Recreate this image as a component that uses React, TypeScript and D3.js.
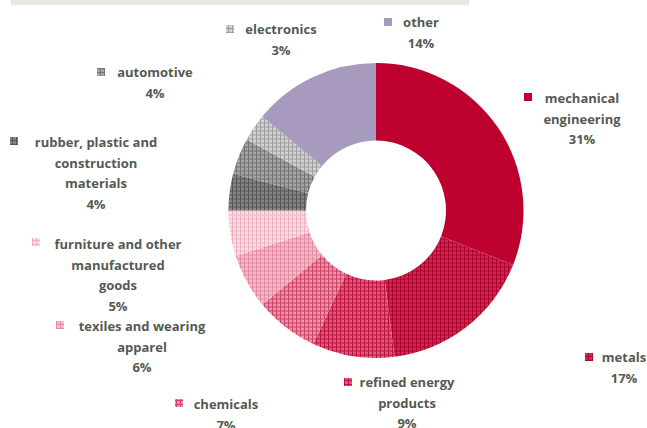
import React from "react";
import * as d3 from "d3";

const categories = [
  "mechanical engineering",
  "metals",
  "refined energy products",
  "chemicals",
  "texiles and wearing apparel",
  "furniture and other manufactured goods",
  "rubber, plastic and construction materials",
  "automotive",
  "electronics",
  "other",
];
const values = [31, 17, 9, 7, 6, 5, 4, 4, 3, 14];
const labelLines = [
  ["mechanical", "engineering"],
  ["metals"],
  ["refined energy", "products"],
  ["chemicals"],
  ["texiles and wearing", "apparel"],
  ["furniture and other", "manufactured", "goods"],
  ["rubber, plastic and", "construction", "materials"],
  ["automotive"],
  ["electronics"],
  ["other"],
];

// styling (not data)
const fills = [
  { bg: "#bd002d", line: null },
  { bg: "#cc2a52", line: "#ae002c" },
  { bg: "#da5c7a", line: "#bf1040" },
  { bg: "#eb95a9", line: "#cf4065" },
  { bg: "#f4bccb", line: "#e58aa0" },
  { bg: "#fbe0e7", line: "#f0b0c0" },
  { bg: "#858585", line: "#565656" },
  { bg: "#a5a5a5", line: "#727272" },
  { bg: "#d2d2d2", line: "#9e9e9e" },
  { bg: "#a899bf", line: null },
];
// label anchor: marker x, marker y (center), text center x, first line baseline y
const labelPos = [
  { mx: 528, my: 97, tx: 582, ty: 103 },
  { mx: 589, my: 357, tx: 624, ty: 362 },
  { mx: 348, my: 382, tx: 407, ty: 387 },
  { mx: 179, my: 403, tx: 226, ty: 409 },
  { mx: 60, my: 325, tx: 142, ty: 331 },
  { mx: 36, my: 242, tx: 118, ty: 249 },
  { mx: 14, my: 141, tx: 96, ty: 147 },
  { mx: 101, my: 72, tx: 155, ty: 77 },
  { mx: 230, my: 29, tx: 281, ty: 34 },
  { mx: 388, my: 22, tx: 421, ty: 27 },
];

export default function App() {
  const W = 647, H = 428;
  const cx = 376, cy = 210.5, rO = 147.5, rI = 70;
  const pie = d3.pie<number>().sort(null).value((d) => d)(values);
  const arc = d3.arc<d3.PieArcDatum<number>>().innerRadius(rI).outerRadius(rO);
  const lineH = 20.5;
  const fillFor = (i: number) => (fills[i].line ? `url(#p${i})` : fills[i].bg);
  return (
    <svg
      width={W}
      height={H}
      style={{ position: "absolute", left: 0, top: 0 }}
      viewBox={`0 0 ${W} ${H}`}
    >
      <defs>
        {fills.map((f, i) =>
          f.line ? (
            <pattern
              key={i}
              id={`p${i}`}
              patternUnits="userSpaceOnUse"
              width={4}
              height={4}
            >
              <rect width={4} height={4} fill={f.bg} />
              <rect x={0} y={0} width={4} height={1} fill={f.line} />
              <rect x={0} y={0} width={1} height={4} fill={f.line} />
            </pattern>
          ) : null
        )}
      </defs>
      <rect x={0} y={0} width={W} height={H} fill="#ffffff" />
      <rect x={11} y={0} width={458} height={5} fill="#eae8e3" />
      <g transform={`translate(${cx},${cy})`}>
        {pie.map((d, i) => (
          <path key={categories[i]} d={arc(d) || ""} fill={fillFor(i)} />
        ))}
      </g>
      {labelPos.map((p, i) => {
        const lines = [...labelLines[i], `${values[i]}%`];
        return (
          <g key={categories[i]}>
            <rect
              x={p.mx - 4}
              y={p.my - 4}
              width={8}
              height={8}
              fill={fillFor(i)}
            />
            <text
              textAnchor="middle"
              fontFamily="'Open Sans', sans-serif"
              fontWeight="bold"
              fontSize={13}
              fill="#555a52"
            >
              {lines.map((l, j) => (
                <tspan key={j} x={p.tx} y={p.ty + j * lineH}>
                  {l}
                </tspan>
              ))}
            </text>
          </g>
        );
      })}
    </svg>
  );
}
